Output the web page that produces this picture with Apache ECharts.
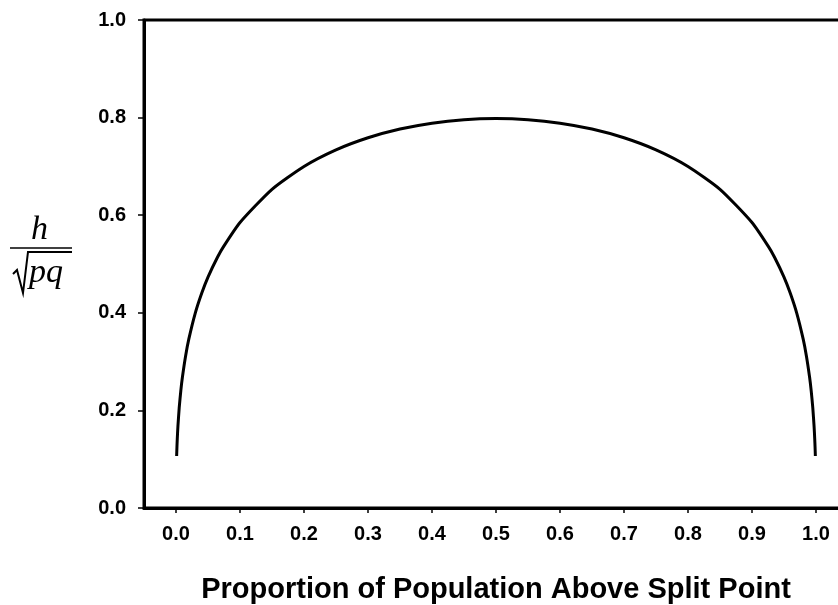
<!DOCTYPE html>
<html>
<head>
<meta charset="utf-8">
<script src="https://cdn.jsdelivr.net/npm/echarts@6/dist/echarts.min.js"></script>
<style>html,body{margin:0;padding:0;background:#fff}#c{width:838px;height:605px}</style>
</head>
<body>
<div id="c"></div>
<script>
// Proportion p (x) and h/sqrt(pq) (y)
const pValues = [0.001, 0.0015, 0.002, 0.003, 0.005, 0.0075, 0.01, 0.015, 0.02, 0.03, 0.04, 0.05, 0.065, 0.075, 0.1, 0.15, 0.2, 0.25, 0.3, 0.35, 0.4, 0.45, 0.5,
  0.55, 0.6, 0.65, 0.7, 0.75, 0.8, 0.85, 0.9, 0.925, 0.935, 0.95, 0.96, 0.97, 0.98, 0.985, 0.99, 0.9925, 0.995, 0.997, 0.998, 0.9985, 0.999];
const ratioValues = [0.1065, 0.126, 0.142, 0.1673, 0.2051, 0.2402, 0.2679, 0.3116, 0.3459, 0.3989, 0.4395, 0.4732, 0.5144, 0.5371, 0.585, 0.653, 0.6999, 0.7339, 0.7587, 0.7766, 0.7886, 0.7956, 0.7979,
  0.7956, 0.7886, 0.7766, 0.7587, 0.7339, 0.6999, 0.653, 0.585, 0.5371, 0.5144, 0.4732, 0.4395, 0.3989, 0.3459, 0.3116, 0.2679, 0.2402, 0.2051, 0.1673, 0.142, 0.126, 0.1065];
const xTicks = [0.0, 0.1, 0.2, 0.3, 0.4, 0.5, 0.6, 0.7, 0.8, 0.9, 1.0];
const yTicks = [0.0, 0.2, 0.4, 0.6, 0.8, 1.0];
const xTitle = 'Proportion of Population Above Split Point';

const chart = echarts.init(document.getElementById('c'));
const labelFont = { fontFamily: 'Liberation Sans, Arial, sans-serif', fontWeight: 'bold', fontSize: 20, color: '#000' };
chart.setOption({
  animation: false,
  backgroundColor: '#fff',
  grid: { left: 144, right: -10, top: 20, bottom: 97, containLabel: false, outerBoundsMode: 'none',
          show: true, borderColor: '#000', borderWidth: 3, backgroundColor: 'transparent' },
  xAxis: {
    type: 'value', min: -0.05, max: 1.05,
    axisLine: { show: true, onZero: false, lineStyle: { color: '#000', width: 3 } },
    axisTick: { show: true, customValues: xTicks, length: 5, lineStyle: { color: '#000', width: 1.5 } },
    axisLabel: Object.assign({ customValues: xTicks, margin: 16, formatter: v => v.toFixed(1) }, labelFont),
    splitLine: { show: false },
    name: xTitle, nameLocation: 'middle', nameGap: 67,
    nameTextStyle: { fontFamily: 'Liberation Sans, Arial, sans-serif', fontWeight: 'bold', fontSize: 29, color: '#000' }
  },
  yAxis: {
    type: 'value', min: 0, max: 1.0, interval: 0.2,
    axisLine: { show: true, onZero: false, lineStyle: { color: '#000', width: 3 } },
    axisTick: { show: true, length: 6, lineStyle: { color: '#000', width: 1.5 } },
    axisLabel: Object.assign({ margin: 18, formatter: v => v.toFixed(1) }, labelFont),
    splitLine: { show: false }
  },
  series: [{
    type: 'line',
    data: pValues.map((p, i) => [p, ratioValues[i]]),
    smooth: 0.2,
    symbol: 'none',
    lineStyle: { color: '#000', width: 3 }
  }],
  graphic: [
    { type: 'text', left: 31, top: 213, style: { text: 'h', font: 'italic 34px "Liberation Serif", "Times New Roman", serif', fill: '#000' } },
    { type: 'line', shape: { x1: 10, y1: 248, x2: 72, y2: 248 }, style: { stroke: '#000', lineWidth: 1.5 } },
    { type: 'polyline', shape: { points: [[13, 274], [17, 270], [23, 293], [28, 252], [72, 252]] }, style: { stroke: '#000', lineWidth: 2, fill: null } },
    { type: 'text', left: 29, top: 256, style: { text: 'pq', font: 'italic 34px "Liberation Serif", "Times New Roman", serif', fill: '#000' } }
  ]
});
</script>
</body>
</html>
